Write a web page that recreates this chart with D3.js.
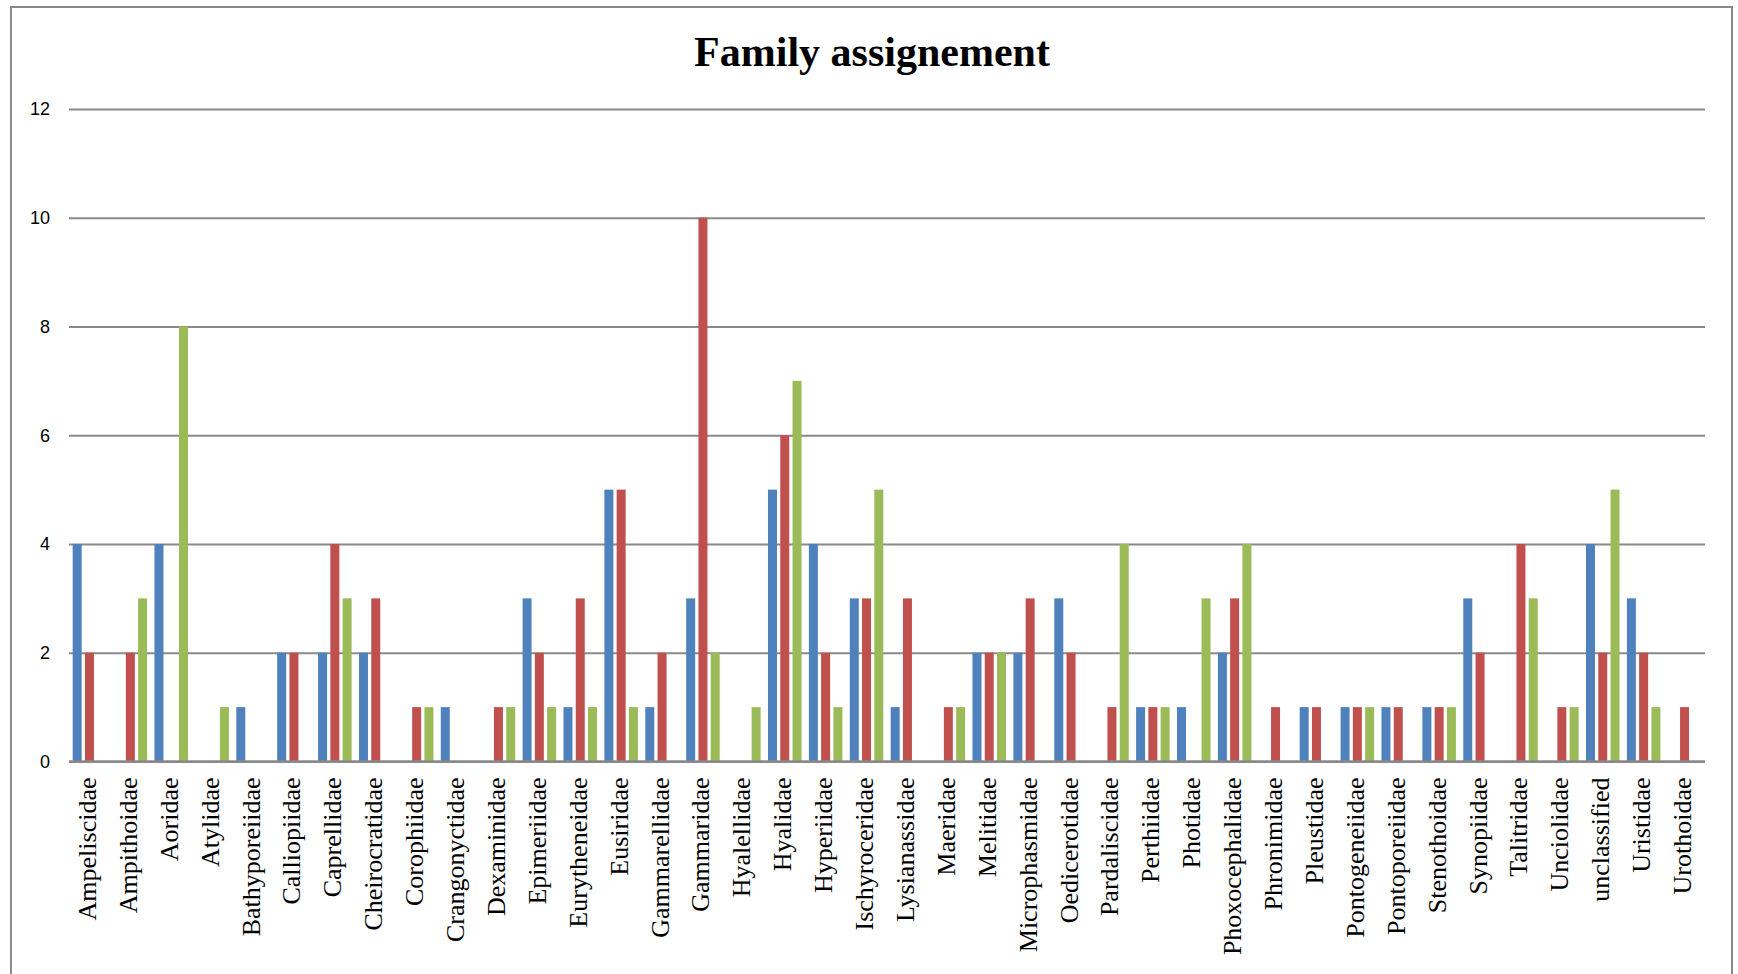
<!DOCTYPE html>
<html>
<head>
<meta charset="utf-8">
<script src="https://cdn.jsdelivr.net/npm/d3@7"></script>
<style>
  body { margin: 0; background: #ffffff; }
  .grid line { stroke: #8a8a8a; stroke-width: 2; }
  .grid path { display: none; }
  .ytick text { font-family: "Liberation Sans", Arial, sans-serif; font-size: 18px; fill: #000; }
  .xlabel { font-family: "Liberation Serif", "Times New Roman", serif; font-size: 26px; fill: #000; }
  .title { font-family: "Liberation Serif", "Times New Roman", serif; font-size: 42px; font-weight: bold; fill: #000; }
</style>
</head>
<body>
<svg id="chart" width="1738" height="974"></svg>
<script>
// family names along the x axis
var families = [
  "Ampeliscidae", "Ampithoidae", "Aoridae", "Atylidae", "Bathyporeiidae",
  "Calliopiidae", "Caprellidae", "Cheirocratidae", "Corophiidae", "Crangonyctidae",
  "Dexaminidae", "Epimeriidae", "Eurytheneidae", "Eusiridae", "Gammarellidae",
  "Gammaridae", "Hyalellidae", "Hyalidae", "Hyperiidae", "Ischyroceridae",
  "Lysianassidae", "Maeridae", "Melitidae", "Microphasmidae", "Oedicerotidae",
  "Pardaliscidae", "Perthiidae", "Photidae", "Phoxocephalidae", "Phronimidae",
  "Pleustidae", "Pontogeneiidae", "Pontoporeiidae", "Stenothoidae", "Synopiidae",
  "Talitridae", "Unciolidae", "unclassified", "Uristidae", "Urothoidae"
];

// three series, one value per family (blue, red, green)
var seriesBlue = [4, 0, 4, 0, 1, 2, 2, 2, 0, 1, 0, 3, 1, 5, 1, 3, 0, 5, 4, 3,
                  1, 0, 2, 2, 3, 0, 1, 1, 2, 0, 1, 1, 1, 1, 3, 0, 0, 4, 3, 0];
var seriesRed  = [2, 2, 0, 0, 0, 2, 4, 3, 1, 0, 1, 2, 3, 5, 2, 10, 0, 6, 2, 3,
                  3, 1, 2, 3, 2, 1, 1, 0, 3, 1, 1, 1, 1, 1, 2, 4, 1, 2, 2, 1];
var seriesGreen = [0, 3, 8, 1, 0, 0, 3, 0, 1, 0, 1, 1, 1, 1, 0, 2, 1, 7, 1, 5,
                   0, 1, 2, 0, 0, 4, 1, 3, 4, 0, 0, 1, 0, 1, 0, 3, 1, 5, 1, 0];

var seriesNames = ["blue", "red", "green"];
var seriesColors = ["#4f81bd", "#c0504d", "#9bbb59"];
var yTicks = [0, 2, 4, 6, 8, 10, 12];

var svg = d3.select("#chart");

// outer chart frame (bottom edge runs off the picture)
svg.append("rect")
    .attr("x", 11)
    .attr("y", 7)
    .attr("width", 1721)
    .attr("height", 1000)
    .attr("fill", "none")
    .attr("stroke", "#8a8a8a")
    .attr("stroke-width", 2);

svg.append("text")
    .attr("class", "title")
    .attr("x", 872)
    .attr("y", 66)
    .attr("text-anchor", "middle")
    .text("Family assignement");

var plotLeft = 69, plotRight = 1705, plotTop = 109, plotBottom = 761.5;

var x0 = d3.scaleBand()
    .domain(families)
    .range([plotLeft, plotRight]);

var x1 = d3.scaleBand()
    .domain(seriesNames)
    .range([0, x0.bandwidth()])
    .paddingInner(0.267)
    .paddingOuter(0.3);

var y = d3.scaleLinear()
    .domain([0, 12])
    .range([plotBottom, plotTop]);

// horizontal gridlines
svg.append("g")
    .attr("class", "grid")
    .attr("transform", "translate(" + plotLeft + ",0)")
    .call(d3.axisLeft(y).tickValues(yTicks).tickSize(-(plotRight - plotLeft)).tickFormat(""));

// y tick labels
svg.append("g")
    .attr("class", "ytick")
  .selectAll("text")
    .data(yTicks)
  .enter().append("text")
    .attr("x", 50)
    .attr("y", function(d) { return y(d); })
    .attr("dy", "0.35em")
    .attr("text-anchor", "end")
    .text(function(d) { return d; });

// bars
var rows = families.map(function(f, i) {
  return { family: f, values: [seriesBlue[i], seriesRed[i], seriesGreen[i]] };
});

var groups = svg.append("g")
  .selectAll("g")
    .data(rows)
  .enter().append("g")
    .attr("transform", function(d) { return "translate(" + x0(d.family) + ",0)"; });

groups.selectAll("rect")
    .data(function(d) {
      return d.values.map(function(v, j) { return { name: seriesNames[j], value: v, color: seriesColors[j] }; });
    })
  .enter().append("rect")
    .attr("x", function(d) { return x1(d.name); })
    .attr("width", x1.bandwidth())
    .attr("y", function(d) { return y(d.value); })
    .attr("height", function(d) { return y(0) - y(d.value); })
    .attr("fill", function(d) { return d.color; });

// zero axis line on top of the bars
svg.append("line")
    .attr("x1", plotLeft)
    .attr("x2", plotRight)
    .attr("y1", y(0))
    .attr("y2", y(0))
    .attr("stroke", "#8a8a8a")
    .attr("stroke-width", 2.5);

// rotated category labels
svg.append("g")
  .selectAll("text")
    .data(families)
  .enter().append("text")
    .attr("class", "xlabel")
    .attr("text-anchor", "end")
    .attr("dy", "0.25em")
    .attr("transform", function(d) {
      return "translate(" + (x0(d) + x0.bandwidth() / 2) + "," + (plotBottom + 16) + ") rotate(-90)";
    })
    .text(function(d) { return d; });
</script>
</body>
</html>
